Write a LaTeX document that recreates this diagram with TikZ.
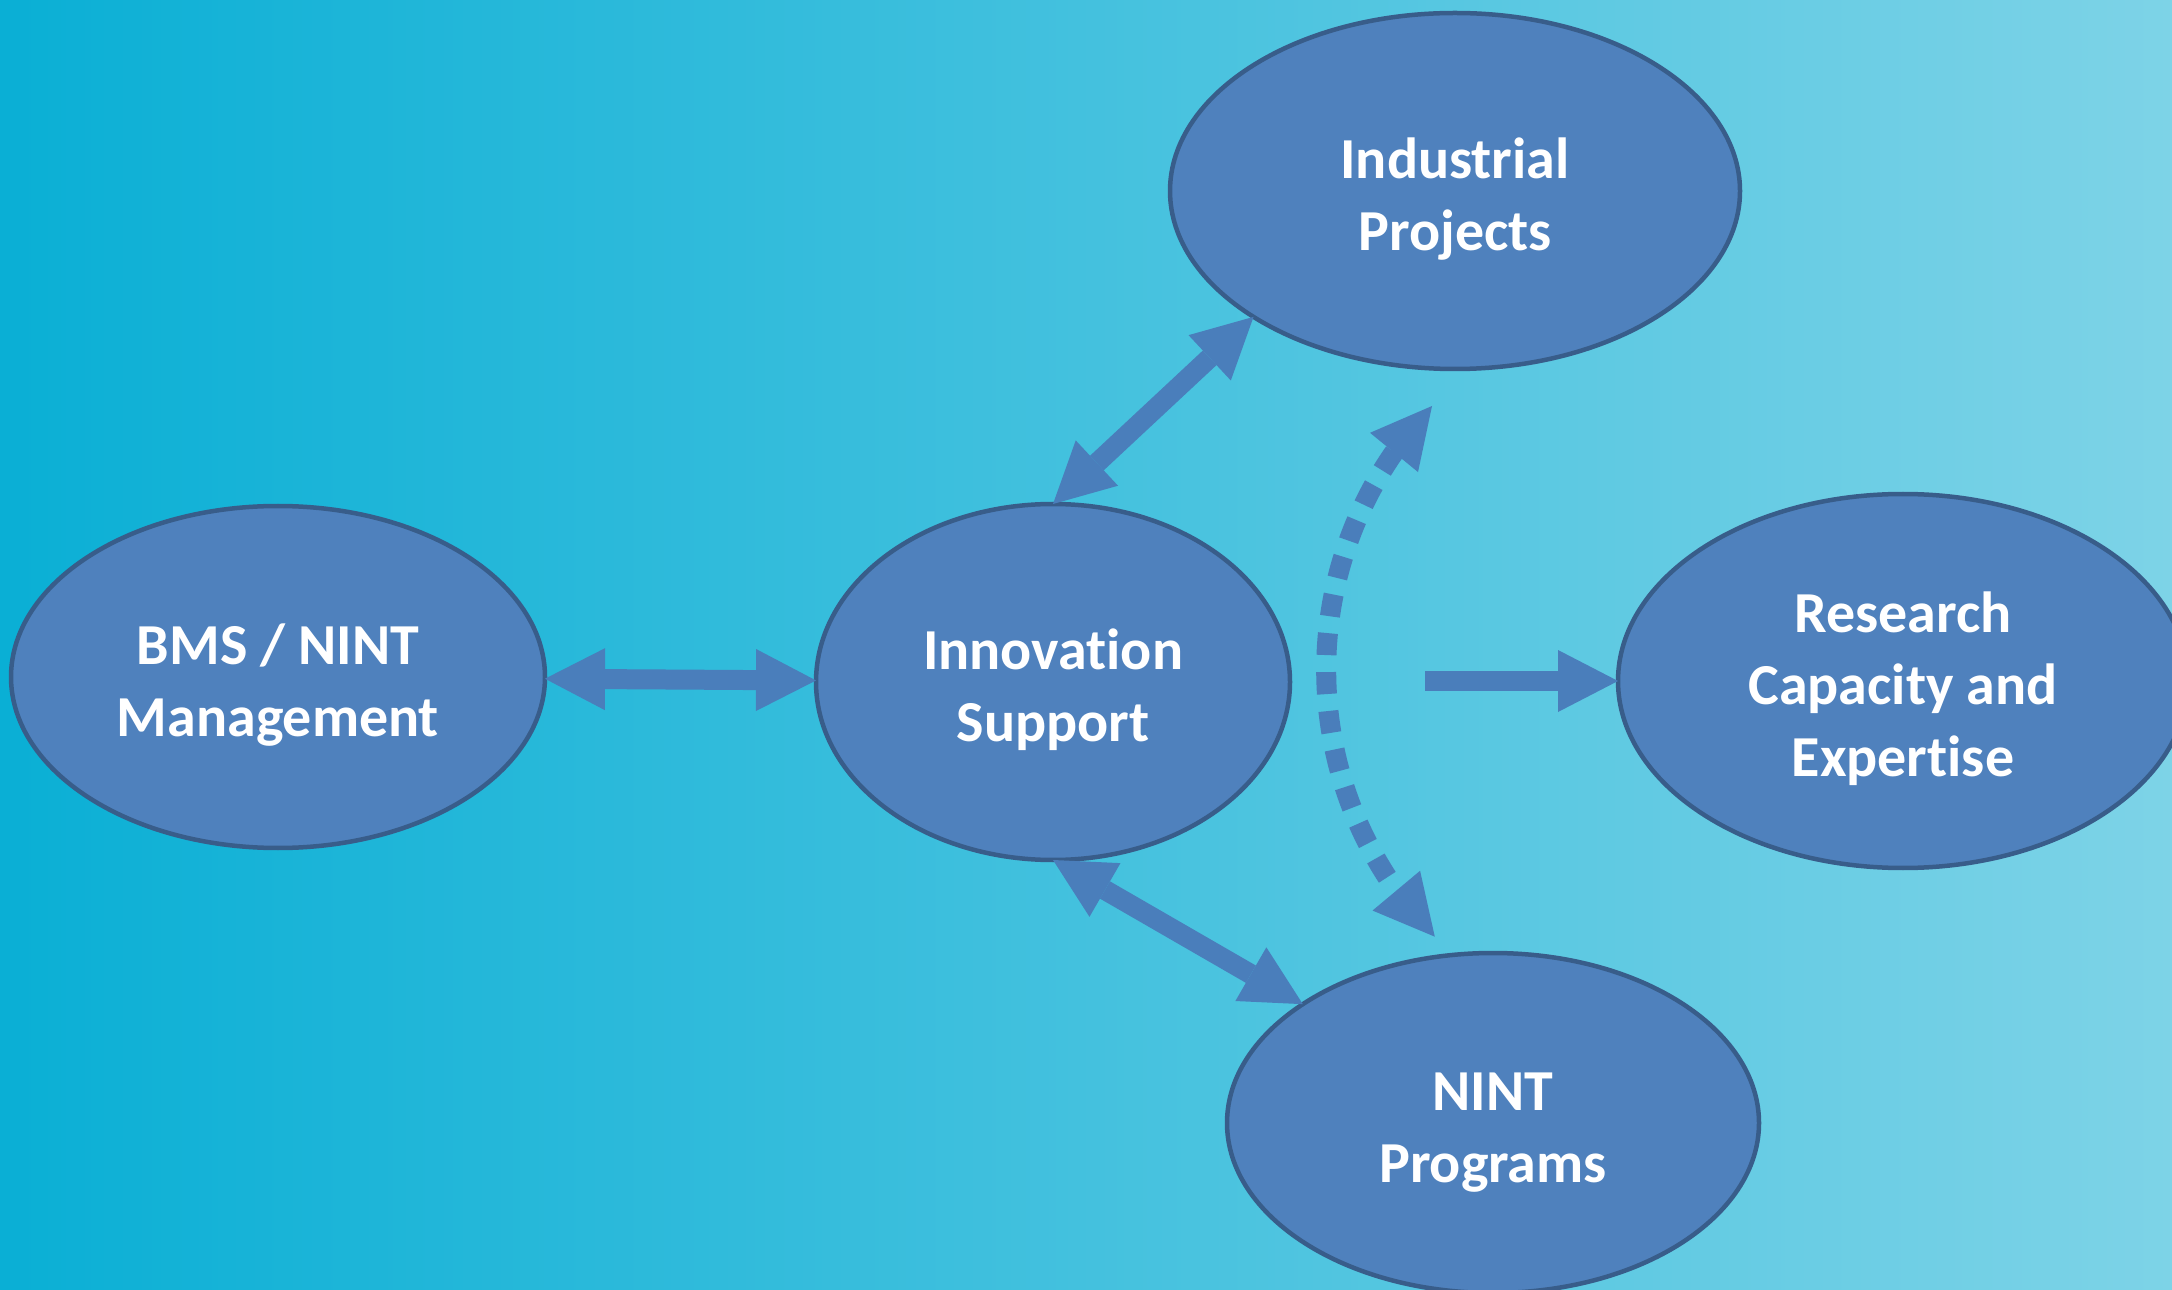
\documentclass[tikz,border=0pt]{standalone}
\usepackage{fontspec}
\setmainfont{Carlito}[Ligatures=NoCommon]
\usetikzlibrary{shapes.geometric,arrows.meta,bending}

\definecolor{bgleft}{HTML}{0AAFD5}
\definecolor{bgright}{HTML}{7DD3E7}
\definecolor{ovalfill}{HTML}{4F81BD}
\definecolor{ovaledge}{HTML}{385D8A}
\definecolor{linkcol}{HTML}{4A7EBB}

% uniform height for the first line of each oval label
\newcommand\ovstrut{\rule{0pt}{16pt}}

\tikzset{
  oval/.style={ellipse, fill=ovalfill, draw=ovaledge, line width=0.45mm,
    inner sep=0pt, outer sep=0pt, align=center, text=white,
    font=\fontsize{16.5}{20.5}\selectfont\bfseries},
  bigtip/.tip={Triangle[length=6mm, width=6.2mm, line width=0pt]},
  link/.style={draw=linkcol, fill=none, line width=2mm, line cap=butt,
    arrows={-bigtip}},
  twoway/.style={link, arrows={bigtip-bigtip}},
  dotlink/.style={twoway, dash pattern=on 2.2mm off 1.7mm},
}

\begin{document}
\begin{tikzpicture}[x=0.1mm, y=-0.1mm]
  % canvas with a left-to-right colour fade
  \shade[left color=bgleft, right color=bgright] (0,0) rectangle (2172,1290);
  \useasboundingbox (0,0) rectangle (2172,1290);

  % ovals
  \node[oval, minimum width=53.4mm, minimum height=34.2mm] (bms)  at (278,677)
    {\ovstrut BMS / NINT\\Management};
  \node[oval, minimum width=47.4mm, minimum height=35.6mm] (inno) at (1053,682)
    {\ovstrut Innovation\\Support};
  \node[oval, minimum width=57mm,   minimum height=35.6mm] (indu) at (1455,191)
    {\ovstrut Industrial\\Projects};
  \node[oval, minimum width=57mm,   minimum height=37.4mm] (res)  at (1903,681)
    {\ovstrut Research\\Capacity and\\Expertise};
  \node[oval, minimum width=53.2mm, minimum height=34mm]   (prog) at (1493,1123)
    {\ovstrut NINT\\Programs};

  % links between the ovals
  \draw[twoway] (bms) -- (inno);
  \draw[twoway] (inno.north) -- (indu.212);
  \draw[twoway] (inno.south) -- (prog.148);

  \coordinate (rstart) at (1425,681);
  \draw[link] (rstart) -- (res.west);

  % dotted arc between projects and programs
  \coordinate (dtop) at (1432,406);
  \draw[dotlink] (dtop) arc[start angle=136.3, end angle=224.3, radius=38.2mm];
\end{tikzpicture}
\end{document}
